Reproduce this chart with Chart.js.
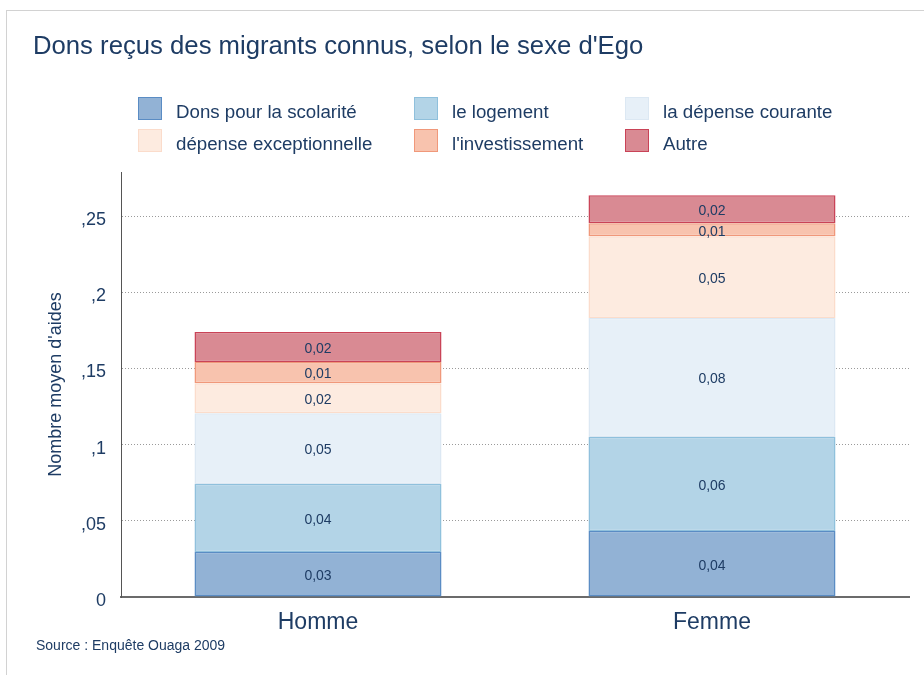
<!DOCTYPE html>
<html>
<head>
<meta charset="utf-8">
<script src="https://cdn.jsdelivr.net/npm/chart.js@4/dist/chart.umd.min.js"></script>
<style>
  body { margin: 0; background: #fff; font-family: "Liberation Sans", Arial, sans-serif; color: #1e3c64; }
  #wrap { position: relative; width: 924px; height: 675px; overflow: hidden; }
  #frame { position: absolute; left: 6px; top: 10px; right: 0; bottom: 0; border-top: 1px solid #d2d2d2; border-left: 1px solid #d2d2d2; }
  #title { position: absolute; left: 33px; top: 30px; font-size: 25.7px; line-height: 30px; white-space: nowrap; }
  #legend { position: absolute; left: 138px; top: 97px; display: grid; grid-template-columns: 276px 211px 270px; grid-auto-rows: 32px; }
  .item { display: flex; align-items: flex-start; font-size: 18.7px; line-height: 24px; white-space: nowrap; }
  .item .txt { padding-top: 3px; }
  .box { width: 24px; height: 23px; margin-right: 14px; box-sizing: border-box; border: 1.5px solid; }
  #source { position: absolute; left: 36px; top: 636px; font-size: 14px; line-height: 18px; }
  canvas { position: absolute; left: 0; top: 0; }
</style>
</head>
<body>
<div id="wrap">
  <div id="frame"></div>
  <canvas id="chart" width="924" height="675"></canvas>
  <div id="title">Dons reçus des migrants connus, selon le sexe d'Ego</div>
  <div id="legend"></div>
  <div id="source">Source : Enquête Ouaga 2009</div>
</div>
<script>
// categories
const categories = ['Homme', 'Femme'];

// series (mean number of gifts)
const seriesNames = ['Dons pour la scolarité', 'le logement', 'la dépense courante',
                     'dépense exceptionnelle', "l'investissement", 'Autre'];
const scolarite = [0.0295, 0.0433];
const logement = [0.0446, 0.0617];
const depenseCourante = [0.0466, 0.0781];
const depenseExceptionnelle = [0.0197, 0.0538];
const investissement = [0.0138, 0.0085];
const autre = [0.0197, 0.0184];

// y axis ticks
const yTickValues = [0, 0.05, 0.1, 0.15, 0.2, 0.25];
const yTickLabels = ['0', ',05', ',1', ',15', ',2', ',25'];

const fillColors = ['#92b2d5', '#b3d4e7', '#e7f0f8', '#fdebe0', '#f8c3ae', '#d98a93'];
const borderColors = ['#5a8cc4', '#8fc0dc', '#dce8f3', '#fbdccb', '#f0987a', '#c94357'];
const textColor = '#1e3c64';

const seriesValues = [scolarite, logement, depenseCourante, depenseExceptionnelle, investissement, autre];

// legend (html, 3 columns)
const legendEl = document.getElementById('legend');
seriesNames.forEach((name, i) => {
    const item = document.createElement('div');
    item.className = 'item';
    const box = document.createElement('span');
    box.className = 'box';
    box.style.background = fillColors[i];
    box.style.borderColor = borderColors[i];
    const label = document.createElement('span');
    label.className = 'txt';
    label.textContent = name;
    item.appendChild(box);
    item.appendChild(label);
    legendEl.appendChild(item);
});

// values printed in the middle of each segment
const segmentLabels = {
    id: 'segmentLabels',
    afterDatasetsDraw(chart) {
        const ctx = chart.ctx;
        ctx.save();
        ctx.font = '14px "Liberation Sans", Arial, sans-serif';
        ctx.fillStyle = textColor;
        ctx.textAlign = 'center';
        ctx.textBaseline = 'middle';
        chart.data.datasets.forEach((ds, i) => {
            chart.getDatasetMeta(i).data.forEach((bar, j) => {
                const p = bar.getCenterPoint();
                ctx.fillText(ds.data[j].toFixed(2).replace('.', ','), p.x, p.y + 2);
            });
        });
        ctx.restore();
    }
};

new Chart(document.getElementById('chart'), {
    type: 'bar',
    data: {
        labels: categories,
        datasets: seriesNames.map((name, i) => ({
            label: name,
            data: seriesValues[i],
            backgroundColor: fillColors[i],
            borderColor: borderColors[i],
            borderWidth: 1.5,
            borderSkipped: false,
            barPercentage: 0.627,
            categoryPercentage: 1
        }))
    },
    options: {
        responsive: false,
        animation: false,
        layout: { padding: { left: 0, top: 172, right: 15, bottom: 0 } },
        plugins: {
            legend: { display: false },
            title: { display: false },
            tooltip: { enabled: false }
        },
        scales: {
            x: {
                stacked: true,
                grid: { display: false, drawTicks: false },
                border: { display: true, color: '#6b6b6b', width: 2 },
                ticks: { color: textColor, font: { size: 23, family: '"Liberation Sans", Arial, sans-serif' }, padding: 12 },
                afterFit(scale) { scale.height = 78; }
            },
            y: {
                stacked: true,
                min: 0,
                max: 0.279,
                afterBuildTicks(scale) { scale.ticks = yTickValues.map(v => ({ value: v })); },
                grid: { color: '#9a9a9a', lineWidth: 1, drawTicks: false },
                border: { display: true, color: '#555', width: 1, dash: [1, 2] },
                ticks: {
                    color: textColor,
                    padding: 15,
                    labelOffset: 4,
                    font: { size: 18, family: '"Liberation Sans", Arial, sans-serif' },
                    callback: (value, index) => yTickLabels[index]
                },
                title: {
                    display: true,
                    text: "Nombre moyen d'aides",
                    color: textColor,
                    font: { size: 18, family: '"Liberation Sans", Arial, sans-serif' },
                    padding: { top: 45, bottom: 0 }
                },
                afterFit(scale) { scale.width = 121; }
            }
        }
    },
    plugins: [segmentLabels]
});
</script>
</body>
</html>
